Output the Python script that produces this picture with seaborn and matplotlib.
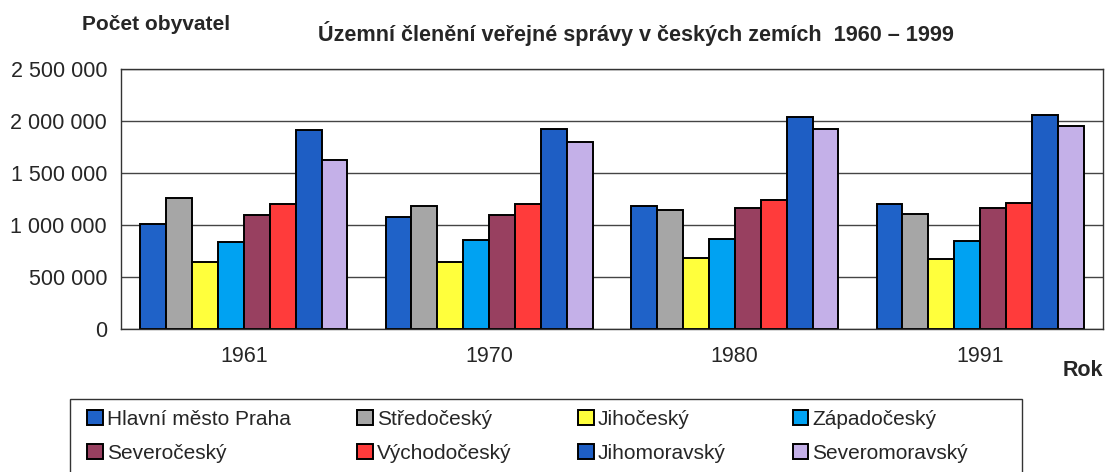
import matplotlib.pyplot as plt
import pandas as pd
import seaborn as sns
from matplotlib.patches import Rectangle
from matplotlib.ticker import FuncFormatter, FixedLocator

# data
roky = ['1961', '1970', '1980', '1991']
kraje = ['Hlavní město Praha', 'Středočeský', 'Jihočeský', 'Západočeský',
         'Severočeský', 'Východočeský', 'Jihomoravský', 'Severomoravský']
praha = [1005000, 1078000, 1183000, 1200000]
stredocesky = [1260000, 1183000, 1149000, 1104000]
jihocesky = [643000, 645000, 678000, 672000]
zapadocesky = [832000, 851000, 867000, 848000]
severocesky = [1094000, 1094000, 1168000, 1161000]
vychodocesky = [1206000, 1206000, 1238000, 1216000]
jihomoravsky = [1913000, 1926000, 2035000, 2054000]
severomoravsky = [1629000, 1795000, 1926000, 1955000]

barvy = ['#1F62C8', '#A6A6A6', '#FFFF3C', '#00A2F2',
         '#984060', '#FF3B3B', '#1E5EC4', '#C4B0E8']

serie = [praha, stredocesky, jihocesky, zapadocesky,
         severocesky, vychodocesky, jihomoravsky, severomoravsky]
rows = []
for k, vals in zip(kraje, serie):
    for r, v in zip(roky, vals):
        rows.append({'Rok': r, 'Kraj': k, 'Pocet': v})
df = pd.DataFrame(rows)

sns.set_style('white')
plt.rcParams['font.family'] = ['Liberation Sans', 'DejaVu Sans']

W, H = 1115, 472
fig = plt.figure(figsize=(W / 100, H / 100), dpi=100)
ax = fig.add_axes([121/W, 1 - 329/H, (1103-121)/W, (329-69)/H])

sns.barplot(data=df, x='Rok', y='Pocet', hue='Kraj', hue_order=kraje,
            palette=barvy, saturation=1, width=0.845, edgecolor='black',
            linewidth=1.4, errorbar=None, ax=ax)

handles, labels = ax.get_legend_handles_labels()
ax.get_legend().remove()

ax.set_ylim(0, 2500000)
ax.set_xlim(-0.5, 3.5)
ax.set_yticks(range(0, 2500001, 500000))
ax.yaxis.set_major_formatter(FuncFormatter(lambda v, p: f'{int(v):,}'.replace(',', ' ')))
ax.yaxis.grid(True, color='#444444', linewidth=1)
ax.set_axisbelow(True)
ax.tick_params(axis='y', which='major', direction='out', length=6, width=1,
               color='#333333', labelsize=15.5, pad=4)
ax.tick_params(axis='x', which='major', length=0, labelsize=15.5, pad=12)
ax.xaxis.set_minor_locator(FixedLocator([-0.5, 0.5, 1.5, 2.5, 3.5]))
ax.tick_params(axis='x', which='minor', direction='out', length=6, width=1, color='#333333')
for s in ax.spines.values():
    s.set_color('#333333')
    s.set_linewidth(1)
ax.set_xlabel('')
ax.set_ylabel('')

fig.text(82/W, 1 - 25/H, 'Počet obyvatel', fontsize=15, fontweight='bold', va='center')
fig.text(318/W, 1 - 33/H, 'Územní členění veřejné správy v českých zemích  1960 – 1999',
         fontsize=15.6, fontweight='bold', va='center')
fig.text(1063/W, 1 - 370/H, 'Rok', fontsize=15.5, fontweight='bold', va='center')

# legenda po radcich (4 sloupce, 2 radky)
poradi = [0, 4, 1, 5, 2, 6, 3, 7]
leg = fig.legend([handles[i] for i in poradi], [labels[i] for i in poradi],
                 ncol=4, loc='upper left', bbox_to_anchor=(87/W, 1 - 410/H),
                 fontsize=15, frameon=False, handlelength=0.75, handleheight=0.75,
                 handletextpad=0.2, labelspacing=0.7, borderpad=0,
                 borderaxespad=0, columnspacing=3.2)
fig.patches.append(Rectangle((70/W, -0.05), (1022-70)/W, 0.05 + (H-399)/H,
                             transform=fig.transFigure, fill=False,
                             edgecolor='#333333', linewidth=1))

fig.savefig('out.png', dpi=100)
